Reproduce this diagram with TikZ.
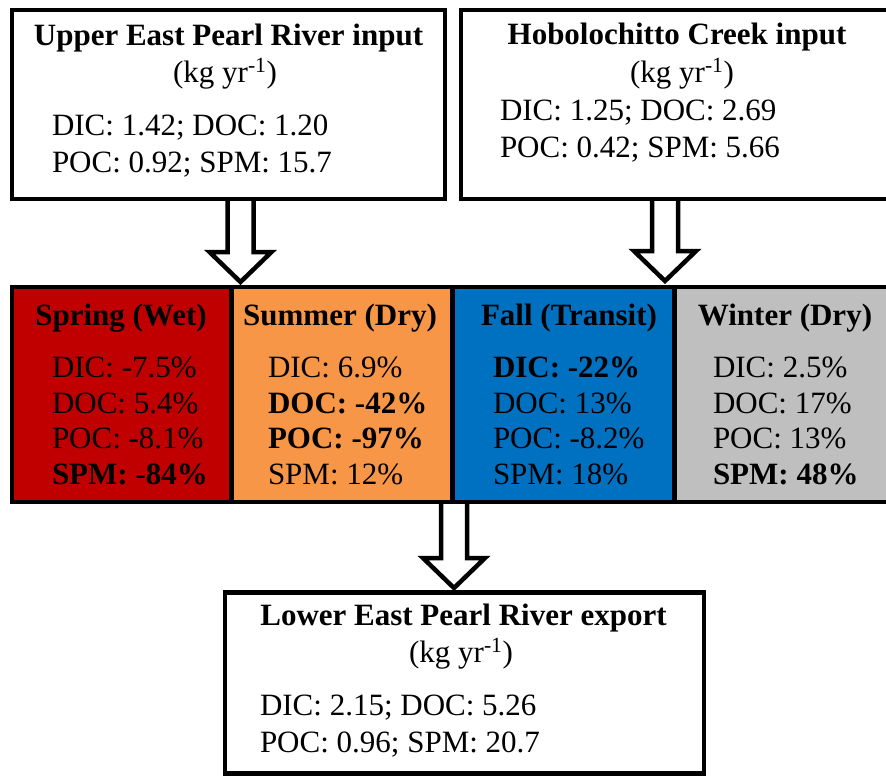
\documentclass[tikz,border=0pt]{standalone}
\usepackage{fontspec}
\setmainfont{Liberation Serif}
\usetikzlibrary{calc,backgrounds}
\definecolor{springred}{HTML}{C00000}
\definecolor{summerorange}{HTML}{F79646}
\definecolor{fallblue}{HTML}{0070C0}
\definecolor{wintergray}{HTML}{BFBFBF}
\tikzset{
  box/.style={draw=black, line width=4.5pt, rectangle, inner sep=0pt, outer sep=0pt},
  txt/.style={inner sep=0pt, outer sep=0pt, font=\fontsize{31}{36}\selectfont},
  ttl/.style={inner sep=0pt, outer sep=0pt, anchor=base, font=\fontsize{31}{36}\selectfont\bfseries},
  val/.style={txt, anchor=base west},
  unit/.style={txt, anchor=base},
  barrow/.style={draw=black, fill=white, line width=4.5pt, line join=miter},
}
\newcommand\blockarrow[2]{%
  \draw[barrow] ($(#1)+(-13,0)$) -- ($(#2)+(-13,-30)$) -- ($(#2)+(-31,-30)$) -- (#2)
    -- ($(#2)+(31,-30)$) -- ($(#2)+(13,-30)$) -- ($(#1)+(13,0)$);
}
\begin{document}
\begin{tikzpicture}[x=1pt,y=-1pt]
\useasboundingbox (0,0) rectangle (886,776);

% top boxes
\node[box, fill=white, minimum width=433pt, minimum height=189pt] (tl) at (228.5,104.5) {};
\node[box, fill=white, minimum width=434pt, minimum height=189pt] (tr) at (678,104.5) {};

% middle row
\node[box, fill=springred, minimum width=219.5pt, minimum height=215pt] (spring) at (121.75,394.5) {};
\node[box, fill=summerorange, minimum width=221pt, minimum height=215pt] (summer) at (342,394.5) {};
\node[box, fill=fallblue, minimum width=222pt, minimum height=215pt] (fall) at (563.5,394.5) {};
\node[box, fill=wintergray, minimum width=222pt, minimum height=215pt] (winter) at (785.5,394.5) {};

% bottom box
\node[box, fill=white, minimum width=479pt, minimum height=181pt] (bot) at (464.5,683) {};

% texts: upper left
\node[ttl] (tlT) at (228.5,46) {Upper East Pearl River input};
\node[unit] (tlU) at (225,82) {(kg yr\textsuperscript{-1})};
\node[val] (tlA) at (52,135) {DIC: 1.42; DOC: 1.20};
\node[val] (tlB) at (52,172) {POC: 0.92; SPM: 15.7};

% texts: upper right
\node[ttl] (trT) at (677,45) {Hobolochitto Creek input};
\node[unit] (trU) at (682,82) {(kg yr\textsuperscript{-1})};
\node[val] (trA) at (500,120) {DIC: 1.25; DOC: 2.69};
\node[val] (trB) at (500,157) {POC: 0.42; SPM: 5.66};

% spring
\node[ttl] (spT) at (121,325) {Spring (Wet)};
\node[val] (sp1) at (52,377) {DIC: -7.5\%};
\node[val] (sp2) at (52,413) {DOC: 5.4\%};
\node[val] (sp3) at (52,448) {POC: -8.1\%};
\node[val] (sp4) at (52,484) {\bfseries SPM: -84\%};

% summer
\node[ttl] (suT) at (340,325) {Summer (Dry)};
\node[val] (su1) at (268,377) {DIC: 6.9\%};
\node[val] (su2) at (268,413) {\bfseries DOC: -42\%};
\node[val] (su3) at (268,448) {\bfseries POC: -97\%};
\node[val] (su4) at (268,484) {SPM: 12\%};

% fall
\node[ttl] (faT) at (569,325) {Fall (Transit)};
\node[val] (fa1) at (493,377) {\bfseries DIC: -22\%};
\node[val] (fa2) at (493,413) {DOC: 13\%};
\node[val] (fa3) at (493,448) {POC: -8.2\%};
\node[val] (fa4) at (493,484) {SPM: 18\%};

% winter
\node[ttl] (wiT) at (785,325) {Winter (Dry)};
\node[val] (wi1) at (713,377) {DIC: 2.5\%};
\node[val] (wi2) at (713,413) {DOC: 17\%};
\node[val] (wi3) at (713,448) {POC: 13\%};
\node[val] (wi4) at (713,484) {\bfseries SPM: 48\%};

% bottom
\node[ttl] (boT) at (463.5,625) {Lower East Pearl River export};
\node[unit] (boU) at (461,662) {(kg yr\textsuperscript{-1})};
\node[val] (boA) at (260,715) {DIC: 2.15; DOC: 5.26};
\node[val] (boB) at (260,752) {POC: 0.96; SPM: 20.7};

% arrow coordinates
\coordinate (a1s) at ($(tl.south)+(12,0)$);
\coordinate (a1t) at (240.5,282);
\coordinate (a2s) at (665,199);
\coordinate (a2t) at (665,281);
\coordinate (a3s) at (454,502);
\coordinate (a3t) at (454,588);

\begin{pgfonlayer}{background}
  \fill[white] (0,0) rectangle (886,776);
  \blockarrow{a1s}{a1t}
  \blockarrow{a2s}{a2t}
  \blockarrow{a3s}{a3t}
\end{pgfonlayer}
\end{tikzpicture}
\end{document}
